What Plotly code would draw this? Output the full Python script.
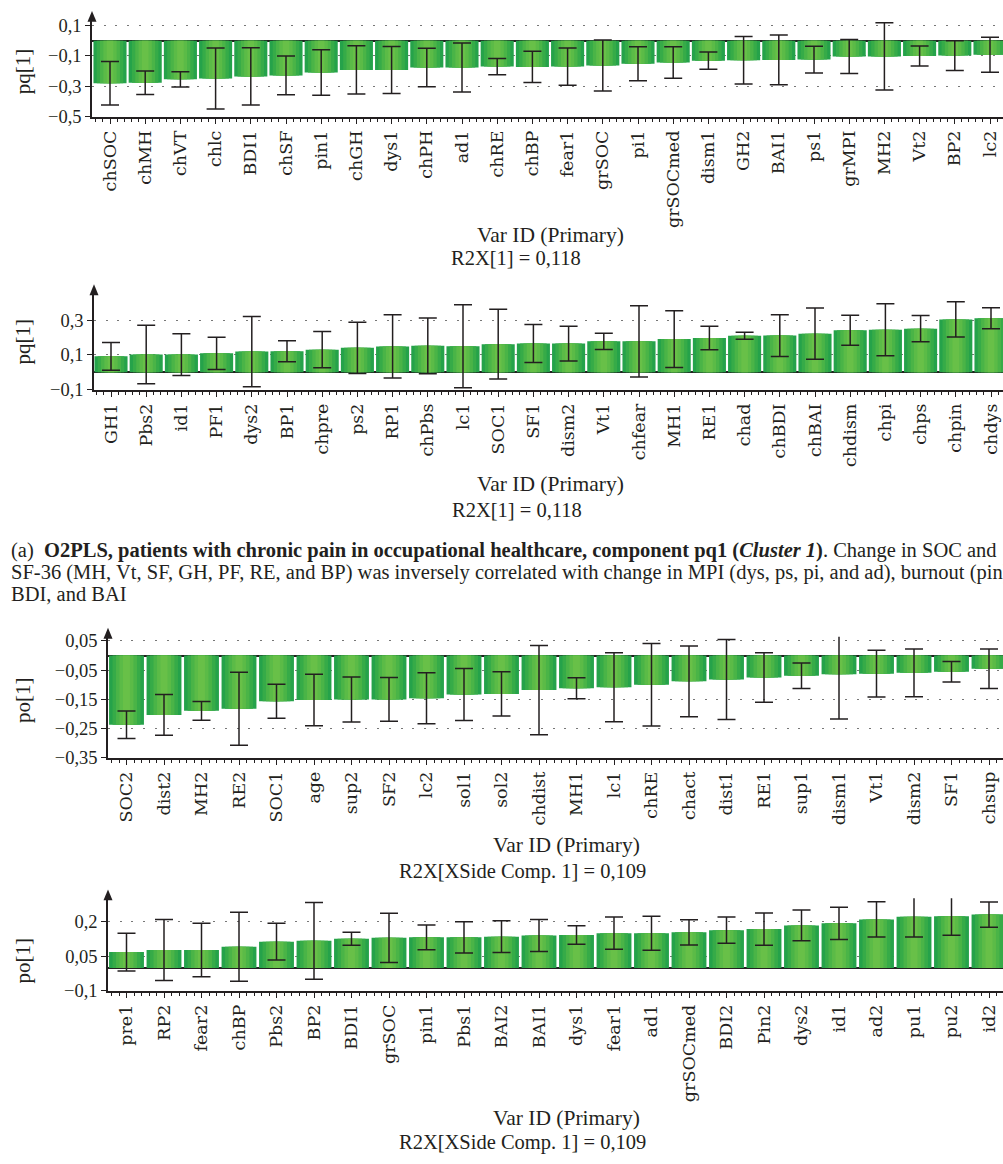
import plotly.graph_objects as go

# ---------------- data ----------------
p1_labels = ["chSOC","chMH","chVT","chlc","BDI1","chSF","pin1","chGH","dys1","chPH","ad1","chRE","chBP",
             "fear1","grSOC","pi1","grSOCmed","dism1","GH2","BAI1","ps1","grMPI","MH2","Vt2","BP2","lc2"]
p1_values = [-0.280,-0.276,-0.254,-0.248,-0.235,-0.228,-0.209,-0.192,-0.192,-0.176,-0.176,-0.170,-0.172,
             -0.170,-0.163,-0.151,-0.143,-0.131,-0.129,-0.126,-0.124,-0.104,-0.103,-0.101,-0.098,-0.093]
p1_err = [0.143,0.077,0.050,0.200,0.188,0.127,0.149,0.158,0.154,0.127,0.161,0.053,0.103,
          0.122,0.168,0.112,0.104,0.056,0.156,0.164,0.088,0.111,0.221,0.066,0.097,0.115]
p1_ticks = [-0.5, -0.3, -0.1, 0.1]
p1_ticktext = ["\u22120,5", "\u22120,3", "\u22120,1", "0,1"]

p2_labels = ["GH1","Pbs2","id1","PF1","dys2","BP1","chpre","ps2","RP1","chPbs","lc1","SOC1","SF1",
             "dism2","Vt1","chfear","MH1","RE1","chad","chBDI","chBAI","chdism","chpi","chps","chpin","chdys"]
p2_values = [0.092,0.102,0.102,0.109,0.119,0.121,0.130,0.141,0.149,0.152,0.150,0.162,0.165,
             0.165,0.178,0.178,0.191,0.197,0.210,0.211,0.222,0.242,0.245,0.251,0.304,0.311]
p2_err = [0.080,0.168,0.120,0.093,0.201,0.060,0.104,0.147,0.182,0.160,0.238,0.200,0.109,
          0.100,0.047,0.204,0.163,0.067,0.020,0.120,0.147,0.086,0.149,0.075,0.101,0.060]
p2_ticks = [-0.1, 0.1, 0.3]
p2_ticktext = ["\u22120,1", "0,1", "0,3"]

p3_labels = ["SOC2","dist2","MH2","RE2","SOC1","age","sup2","SF2","lc2","sol1","sol2","chdist",
             "MH1","lc1","chRE","chact","dist1","RE1","sup1","dism1","Vt1","dism2","SF1","chsup"]
p3_values = [-0.237,-0.203,-0.189,-0.182,-0.156,-0.152,-0.150,-0.150,-0.146,-0.133,-0.131,-0.118,
             -0.112,-0.108,-0.100,-0.088,-0.082,-0.075,-0.069,-0.064,-0.062,-0.059,-0.055,-0.045]
p3_err = [0.047,0.070,0.032,0.125,0.058,0.088,0.077,0.075,0.087,0.089,0.076,0.153,
          0.036,0.118,0.141,0.121,0.137,0.085,0.044,0.153,0.080,0.082,0.035,0.068]
p3_ticks = [-0.35, -0.25, -0.15, -0.05, 0.05]
p3_ticktext = ["\u22120,35", "\u22120,25", "\u22120,15", "\u22120,05", "0,05"]

p4_labels = ["pre1","RP2","fear2","chBP","Pbs2","BP2","BDI1","grSOC","pin1","Pbs1","BAI2","BAI1",
             "dys1","fear1","ad1","grSOCmed","BDI2","Pin2","dys2","id1","ad2","pu1","pu2","id2"]
p4_values = [0.069,0.078,0.078,0.092,0.114,0.118,0.127,0.131,0.133,0.133,0.136,0.141,
             0.143,0.151,0.151,0.155,0.164,0.169,0.185,0.194,0.211,0.223,0.225,0.232]
p4_err = [0.082,0.133,0.116,0.150,0.080,0.167,0.028,0.107,0.054,0.068,0.069,0.070,
          0.040,0.070,0.074,0.055,0.057,0.070,0.067,0.070,0.077,0.089,0.083,0.055]
p4_ticks = [-0.1, 0.05, 0.2]
p4_ticktext = ["\u22120,1", "0,05", "0,2"]

y_titles = ["pq[1]", "pq[1]", "po[1]", "po[1]"]
x_title = "Var ID (Primary)"
r2x_texts = ["R2X[1] = 0,118", "R2X[1] = 0,118",
             "R2X[XSide Comp. 1] = 0,109", "R2X[XSide Comp. 1] = 0,109"]

caption_lines = [
    "(a)\u00a0\u00a0<b>O2PLS, patients with chronic pain in occupational healthcare, component pq1 (<i>Cluster 1</i>)</b>. Change in SOC and",
    "SF-36 (MH, Vt, SF, GH, PF, RE, and BP) was inversely correlated with change in MPI (dys, ps, pi, and ad), burnout (pin),",
    "BDI, and BAI",
]

# ---------------- layout geometry (pixels) ----------------
W, H = 1003, 1164
INK = "#231f20"
SERIF = "Liberation Serif, Times New Roman, serif"
LABEL_FONT = "DejaVu Serif, serif"

panels = [
    dict(labels=p1_labels, values=p1_values, err=p1_err, ticks=p1_ticks, ticktext=p1_ticktext,
         axis_x=92, first=110, step=35.2, ybot_px=113.3, ybot_val=-0.5, ppu=154.3, top_px=15,
         bw=0.94, ytitle_y=67, xt_y=233, xt_x=550, r2_y=256, r2_x=516),
    dict(labels=p2_labels, values=p2_values, err=p2_err, ticks=p2_ticks, ticktext=p2_ticktext,
         axis_x=94, first=111, step=35.2, ybot_px=389.8, ybot_val=-0.1, ppu=176.5, top_px=292,
         bw=0.94, ytitle_y=341, xt_y=485, xt_x=550, r2_y=512, r2_x=517),
    dict(labels=p3_labels, values=p3_values, err=p3_err, ticks=p3_ticks, ticktext=p3_ticktext,
         axis_x=108, first=126.5, step=37.5, ybot_px=762.7, ybot_val=-0.35, ppu=296, top_px=640,
         bw=0.93, ytitle_y=704, xt_y=851, xt_x=566, r2_y=878, r2_x=522),
    dict(labels=p4_labels, values=p4_values, err=p4_err, ticks=p4_ticks, ticktext=p4_ticktext,
         axis_x=108, first=126.5, step=37.5, ybot_px=998.8, ybot_val=-0.1, ppu=233, top_px=905,
         bw=0.93, ytitle_y=968, xt_y=1128, xt_x=566, r2_y=1152, r2_x=522),
]

def fx(px):
    return px / W

def fy(py):
    return 1 - py / H

# gradient simulation: overlaid bars of decreasing width
layers = [(1.00, "#25a24a"), (0.80, "#36ab48"), (0.60, "#4ab447"),
          (0.40, "#5bbb47"), (0.20, "#68c048")]

fig = go.Figure()
layout = dict(width=W, height=H, margin=dict(l=0, r=0, t=0, b=0),
              paper_bgcolor="white", plot_bgcolor="white",
              barmode="overlay", showlegend=False, separators=",.")
shapes, annotations = [], []

for i, p in enumerate(panels, start=1):
    xs = list(range(len(p["labels"])))
    xa, ya = f"x{i}", f"y{i}"
    for k, (frac, col) in enumerate(layers):
        tr = dict(x=xs, y=p["values"], width=p["bw"] * frac, marker=dict(color=col, line=dict(width=0)),
                  xaxis=xa, yaxis=ya, hoverinfo="skip")
        if k == len(layers) - 1:
            tr["error_y"] = dict(type="data", array=p["err"], visible=True, color=INK,
                                 thickness=1.5, width=9)
        fig.add_trace(go.Bar(**tr))

    xr = [-(p["first"] - p["axis_x"]) / p["step"], (W - p["first"]) / p["step"]]
    ytop_val = p["ybot_val"] + (p["ybot_px"] - p["top_px"]) / p["ppu"]
    suffix = "" if i == 1 else str(i)
    layout["xaxis" + suffix] = dict(
        domain=[fx(p["axis_x"]), 1], anchor=ya, range=xr,
        tickmode="array", tickvals=xs, ticktext=p["labels"], tickangle=-90,
        ticks="outside", ticklen=5, tickwidth=1.2, tickcolor=INK,
        minor=dict(dtick=0.2, tick0=0, ticks="outside", ticklen=3, tickcolor=INK, tickwidth=1),
        showline=True, linecolor=INK, linewidth=1.5, showgrid=False, zeroline=False,
        tickfont=dict(family=LABEL_FONT, size=17.5, color=INK), fixedrange=True)
    layout["yaxis" + suffix] = dict(
        domain=[fy(p["ybot_px"]), fy(p["top_px"])], anchor=xa, range=[p["ybot_val"], ytop_val],
        tickmode="array", tickvals=p["ticks"], ticktext=p["ticktext"],
        ticks="outside", ticklen=5, tickwidth=1.2, tickcolor=INK,
        showline=True, linecolor=INK, linewidth=1.5,
        showgrid=True, gridcolor="#777777", gridwidth=1.4, griddash="2px,9.7px",
        zeroline=True, zerolinecolor=INK, zerolinewidth=1.5,
        tickfont=dict(family=SERIF, size=18.5, color=INK), fixedrange=True)

    # arrow head on the y axis
    ax_px, t = p["axis_x"], p["top_px"]
    shapes.append(dict(type="path", xref="paper", yref="paper",
                       path=f"M {fx(ax_px - 4.5)} {fy(t + 2)} L {fx(ax_px)} {fy(t - 9)} L {fx(ax_px + 4.5)} {fy(t + 2)} Z",
                       fillcolor=INK, line=dict(width=0)))
    annotations.append(dict(text=y_titles[i - 1], x=fx(23), y=fy(p["ytitle_y"]), xref="paper", yref="paper",
                            textangle=-90, showarrow=False, xanchor="center", yanchor="middle",
                            font=dict(family=SERIF, size=21, color=INK)))
    annotations.append(dict(text=x_title, x=fx(p["xt_x"]), y=fy(p["xt_y"]), xref="paper", yref="paper",
                            showarrow=False, xanchor="center", yanchor="middle",
                            font=dict(family=SERIF, size=21.5, color=INK)))
    annotations.append(dict(text=r2x_texts[i - 1], x=fx(p["r2_x"]), y=fy(p["r2_y"]), xref="paper", yref="paper",
                            showarrow=False, xanchor="center", yanchor="middle",
                            font=dict(family=SERIF, size=20.5, color=INK)))

for j, line in enumerate(caption_lines):
    annotations.append(dict(text=line, x=fx(9), y=fy(553 + 22 * j), xref="paper", yref="paper",
                            showarrow=False, xanchor="left", yanchor="middle", align="left",
                            font=dict(family=SERIF, size=20.5, color=INK)))

layout["shapes"] = shapes
layout["annotations"] = annotations
fig.update_layout(**layout)
fig.write_html("out.html", config={"displayModeBar": False},
               post_script="document.body.style.margin='0';document.body.style.overflow='hidden';")
